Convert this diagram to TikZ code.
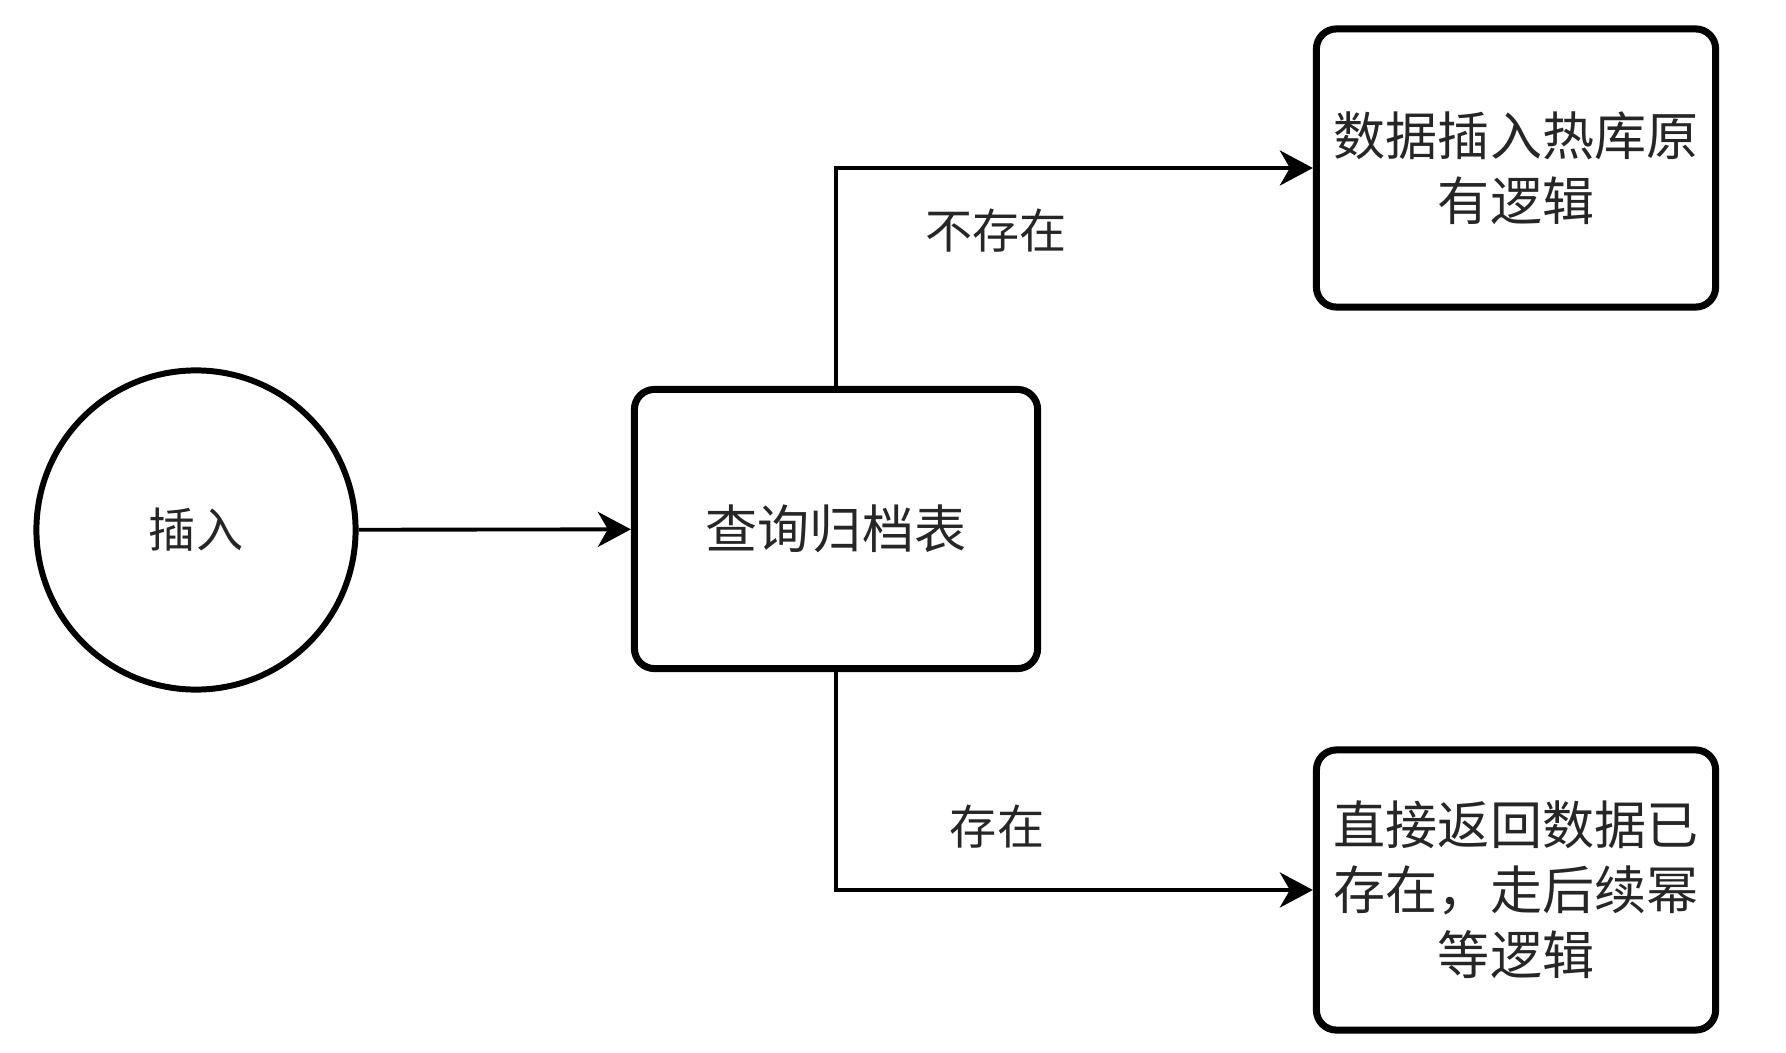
\documentclass[tikz,border=0pt]{standalone}
\usepackage{fontspec}
\setmainfont{Noto Sans CJK SC}
\usepackage{tikz}
\usetikzlibrary{arrows.meta,positioning}

\begin{document}
\begin{tikzpicture}[x=0.01cm,y=-0.01cm,
    >={Stealth[length=0.33cm,width=0.35cm,inset=0.1cm]},
    flow/.style={->,line width=1.1pt},
    proc/.style={shape=rectangle, draw, line width=2pt, rounded corners=0.2cm,
        minimum width=3.99cm, minimum height=2.78cm, align=center,
        font=\fontsize{14.8pt}{18.5pt}\selectfont, text=black!85},
    start/.style={shape=circle, draw, line width=1.7pt, minimum size=3.19cm,
        font=\fontsize{13.4pt}{16pt}\selectfont, text=black!85},
    lbl/.style={font=\fontsize{13.4pt}{16pt}\selectfont, text=black!85}]
  \useasboundingbox (0,0) rectangle (1786,1052);
  \node[start] (insert) at (196,530) {插入};
  \node[proc, minimum width=4.03cm, minimum height=2.79cm] (query) at (836,529) {查询归档表};
  \node[proc] (hot) at (1516,168) {数据插入热库原\\有逻辑};
  \node[proc, minimum height=2.8cm] (done) at (1516,890) {直接返回数据已\\存在，走后续幂\\等逻辑};
  \node[lbl] (absent) at (996,231) {不存在};
  \node[lbl] (present) at (997,827) {存在};
  \draw[flow] (insert) -- (query);
  \draw[flow] (query.north) |- (hot.west);
  \draw[flow] (query.south) |- (done.west);
\end{tikzpicture}
\end{document}
